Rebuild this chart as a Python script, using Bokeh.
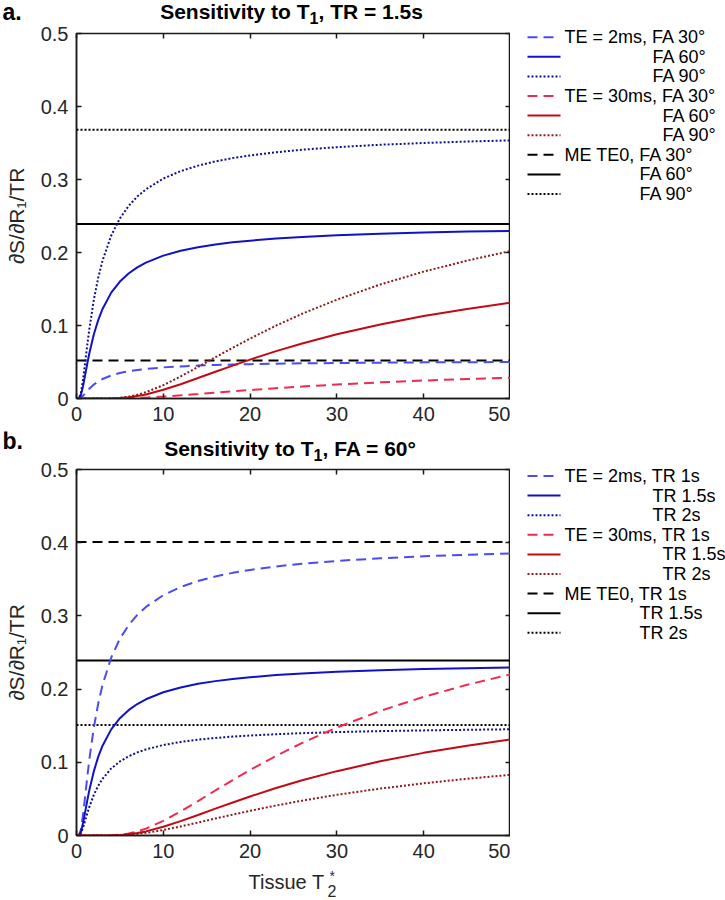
from bokeh.plotting import figure
from bokeh.models import (Range1d, LinearAxis, Label, FixedTicker, NumeralTickFormatter,
                          CustomJSTickFormatter)
from bokeh.layouts import column, row
from bokeh.embed import file_html
from bokeh.resources import INLINE

# ---------------- data ----------------
t2 = [0, 0.25, 0.5, 0.75, 1, 1.25, 1.5, 2, 2.5, 3, 4, 5, 6, 7, 8, 10, 12, 14,
      16, 18, 20, 23, 26, 30, 35, 40, 45, 50]

# panel a: TR = 1.5 s
a_te2_fa30 = [0, 0.0000, 0.0010, 0.0036, 0.0070, 0.0105, 0.0137, 0.0191, 0.0234, 0.0267,
              0.0315, 0.0349, 0.0373, 0.0391, 0.0405, 0.0426, 0.0440, 0.0451, 0.0459,
              0.0465, 0.0470, 0.0477, 0.0482, 0.0486, 0.0491, 0.0495, 0.0497, 0.0500]
a_te2_fa60 = [0, 0.0001, 0.0044, 0.0166, 0.0323, 0.0483, 0.0630, 0.0879, 0.1074, 0.1227,
              0.1450, 0.1602, 0.1712, 0.1796, 0.1861, 0.1957, 0.2023, 0.2072, 0.2109,
              0.2139, 0.2162, 0.2191, 0.2213, 0.2236, 0.2257, 0.2273, 0.2286, 0.2296]
a_te2_fa90 = [0, 0.0001, 0.0067, 0.0256, 0.0498, 0.0743, 0.0970, 0.1354, 0.1653, 0.1889,
              0.2232, 0.2467, 0.2637, 0.2766, 0.2866, 0.3013, 0.3115, 0.3190, 0.3248,
              0.3293, 0.3330, 0.3373, 0.3408, 0.3443, 0.3476, 0.3500, 0.3520, 0.3536]
a_te30_fa30 = [0, 0, 0, 0, 0, 0, 0, 0, 0, 0, 0.0000, 0.0001, 0.0004, 0.0007, 0.0012,
               0.0026, 0.0043, 0.0061, 0.0080, 0.0098, 0.0116, 0.0141, 0.0164, 0.0191,
               0.0221, 0.0246, 0.0267, 0.0285]
a_te30_fa60 = [0, 0, 0, 0, 0, 0, 0, 0, 0, 0, 0.0001, 0.0006, 0.0016, 0.0033, 0.0056,
               0.0119, 0.0196, 0.0280, 0.0367, 0.0451, 0.0533, 0.0649, 0.0754, 0.0879,
               0.1014, 0.1129, 0.1227, 0.1312]
a_te30_fa90 = [0, 0, 0, 0, 0, 0, 0, 0, 0, 0, 0.0002, 0.0009, 0.0025, 0.0051, 0.0087,
               0.0183, 0.0302, 0.0432, 0.0565, 0.0695, 0.0821, 0.0999, 0.1161, 0.1354,
               0.1562, 0.1738, 0.1889, 0.2020]
me_t2 = [0, 50]
a_me_fa30 = [0.052, 0.052]
a_me_fa60 = [0.239, 0.239]
a_me_fa90 = [0.368, 0.368]

# panel b: FA = 60 deg
b_te2_tr1 = [0, 0.0001, 0.0073, 0.0279, 0.0543, 0.0810, 0.1057, 0.1475, 0.1802, 0.2059,
             0.2432, 0.2688, 0.2873, 0.3014, 0.3123, 0.3283, 0.3395, 0.3476, 0.3539,
             0.3588, 0.3628, 0.3676, 0.3713, 0.3751, 0.3787, 0.3814, 0.3836, 0.3853]
b_te2_tr15 = a_te2_fa60
b_te2_tr2 = [0, 0.0001, 0.0028, 0.0105, 0.0204, 0.0305, 0.0398, 0.0556, 0.0678, 0.0775,
             0.0916, 0.1012, 0.1082, 0.1135, 0.1176, 0.1236, 0.1278, 0.1309, 0.1333,
             0.1351, 0.1366, 0.1384, 0.1398, 0.1413, 0.1426, 0.1436, 0.1444, 0.1451]
b_te30_tr1 = [0, 0, 0, 0, 0, 0, 0, 0, 0, 0, 0.0002, 0.0010, 0.0027, 0.0055, 0.0094,
              0.0200, 0.0329, 0.0470, 0.0615, 0.0757, 0.0895, 0.1088, 0.1265, 0.1475,
              0.1702, 0.1894, 0.2059, 0.2201]
b_te30_tr15 = a_te30_fa60
b_te30_tr2 = [0, 0, 0, 0, 0, 0, 0, 0, 0, 0, 0.0001, 0.0004, 0.0010, 0.0021, 0.0036,
              0.0075, 0.0124, 0.0177, 0.0232, 0.0285, 0.0337, 0.0410, 0.0476, 0.0556,
              0.0641, 0.0713, 0.0775, 0.0829]
b_me_tr1 = [0.401, 0.401]
b_me_tr15 = [0.239, 0.239]
b_me_tr2 = [0.151, 0.151]

x_ticks = [0, 10, 20, 30, 40, 50]
y_ticks = [0, 0.1, 0.2, 0.3, 0.4, 0.5]

legend_a = ["TE = 2ms, FA 30\u00b0", "FA 60\u00b0", "FA 90\u00b0",
            "TE = 30ms, FA 30\u00b0", "FA 60\u00b0", "FA 90\u00b0",
            "ME TE0, FA 30\u00b0", "FA 60\u00b0", "FA 90\u00b0"]
legend_b = ["TE = 2ms, TR 1s", "TR 1.5s", "TR 2s",
            "TE = 30ms, TR 1s", "TR 1.5s", "TR 2s",
            "ME TE0, TR 1s", "TR 1.5s", "TR 2s"]

# ---------------- styles ----------------
C_TE2 = ["#4b4bf2", "#1212c4", "#10108c"]
C_TE30 = ["#ee2a4e", "#c20a14", "#8c1a1a"]
C_ME = ["#000000", "#000000", "#000000"]
DASH = ["10 6", "solid", "2 2"]
LW = 2
FONT = "Liberation Sans"
TXT = "#262626"
W_PLOT = 510
W_LEG = 215
W_ALL = W_PLOT + W_LEG


def make_panel(height, top, bottom, series, me_series, colors_list):
    p = figure(width=W_PLOT, height=height, output_backend="svg", toolbar_location=None,
               x_range=Range1d(0, 50), y_range=Range1d(0, 0.5),
               min_border_left=76, min_border_right=0,
               min_border_top=top, min_border_bottom=bottom)
    p.xgrid.visible = False
    p.ygrid.visible = False
    p.outline_line_color = "#1a1a1a"
    p.outline_line_width = 1.5
    for ax in p.xaxis + p.yaxis:
        ax.major_tick_in = 5
        ax.major_tick_out = 0
        ax.minor_tick_line_color = None
        ax.axis_line_width = 1.5
        ax.axis_line_color = "#1a1a1a"
        ax.major_tick_line_color = "#1a1a1a"
        ax.major_tick_line_width = 1.5
        ax.major_label_text_font = FONT
        ax.major_label_text_font_size = "20px"
        ax.major_label_text_color = TXT
    p.xaxis.ticker = FixedTicker(ticks=x_ticks)
    p.yaxis.ticker = FixedTicker(ticks=y_ticks)
    p.xaxis.formatter = NumeralTickFormatter(format="0.[0]")
    p.yaxis.formatter = NumeralTickFormatter(format="0.[0]")
    p.xaxis.major_label_standoff = 8
    p.yaxis.major_label_standoff = 8
    p.yaxis.axis_label = "\u2202S/\u2202R\u2081/TR"
    p.yaxis.axis_label_text_font = FONT
    p.yaxis.axis_label_text_font_style = "normal"
    p.yaxis.axis_label_text_font_size = "21px"
    p.yaxis.axis_label_text_color = TXT
    p.yaxis.axis_label_standoff = 10
    # mirrored tick marks on top and right (no labels)
    for loc, ticks in (("above", x_ticks), ("right", y_ticks)):
        ax = LinearAxis(ticker=FixedTicker(ticks=ticks),
                        formatter=CustomJSTickFormatter(code="return ''"))
        ax.major_tick_in = 5
        ax.major_tick_out = 0
        ax.minor_tick_line_color = None
        ax.axis_line_color = None
        ax.major_tick_line_color = "#1a1a1a"
        ax.major_tick_line_width = 1.5
        ax.major_label_standoff = 0
        p.add_layout(ax, loc)
    for vals, dash in zip(me_series, DASH):
        p.line(me_t2, vals, line_color="black", line_width=LW, line_dash=dash)
    for vals, col, dash in zip(series, colors_list, DASH * 2):
        p.line(t2, vals, line_color=col, line_width=LW, line_dash=dash)
    return p


def blank(width, height):
    f = figure(width=width, height=height, output_backend="svg", toolbar_location=None,
               x_range=Range1d(0, width), y_range=Range1d(height, 0),
               x_axis_type=None, y_axis_type=None, min_border=0, frame_align=False)
    f.xgrid.visible = False
    f.ygrid.visible = False
    f.outline_line_color = None
    return f


def make_legend(height, y0, labels, xs):
    lf = blank(W_LEG, height)
    colors = C_TE2 + C_TE30 + C_ME
    for i, (lab, x) in enumerate(zip(labels, xs)):
        y = y0 + 19.6 * i
        dash = DASH[i % 3]
        x1 = 45 if dash == "10 6" else 50
        lf.line([17, x1], [y, y], line_color=colors[i], line_width=LW, line_dash=dash)
        lf.add_layout(Label(x=x, y=y, text=lab, text_font=FONT, text_font_size="18px",
                            text_color="black", text_baseline="middle", text_align="left"))
    return lf


def make_header(height, anchor, mid, sub_mid, rest, letter, letter_mid):
    h = blank(W_ALL, height)
    kw = dict(text_font=FONT, text_font_style="bold", text_color="black",
              text_baseline="middle")
    h.add_layout(Label(x=anchor, y=mid, text="Sensitivity to T", text_align="right",
                       text_font_size="21px", **kw))
    h.add_layout(Label(x=anchor, y=sub_mid, text="1", text_align="left",
                       text_font_size="16px", **kw))
    h.add_layout(Label(x=anchor + 9, y=mid, text=rest, text_align="left",
                       text_font_size="21px", **kw))
    h.add_layout(Label(x=2, y=letter_mid, text=letter, text_align="left",
                       text_font_size="23px", **kw))
    return h


# panel a  (page rows: header 0-25, plot 25-431)
head_a = make_header(25, 309, 10.5, 17, ", TR = 1.5s", "a.", 11)
pa = make_panel(406, 8, 33,
                [a_te2_fa30, a_te2_fa60, a_te2_fa90, a_te30_fa30, a_te30_fa60, a_te30_fa90],
                [a_me_fa30, a_me_fa60, a_me_fa90], C_TE2 + C_TE30)
leg_a = make_legend(406, 11.7, legend_a, [54, 142, 142, 54, 152, 152, 54, 129, 129])

# panel b  (page rows: header 431-462, plot 462-868, footer 868-899)
head_b = make_header(31, 313, 16.7, 23.5, ", FA = 60\u00b0", "b.", 9.5)
pb = make_panel(406, 7, 33,
                [b_te2_tr1, b_te2_tr15, b_te2_tr2, b_te30_tr1, b_te30_tr15, b_te30_tr2],
                [b_me_tr1, b_me_tr15, b_me_tr2], C_TE2 + C_TE30)
leg_b = make_legend(406, 13.5, legend_b, [54, 142, 142, 54, 152, 152, 54, 129, 129])
foot_b = blank(W_ALL, 31)
kwx = dict(text_font=FONT, text_color=TXT, text_baseline="middle")
foot_b.add_layout(Label(x=324, y=13, text="Tissue T", text_align="right",
                        text_font_size="20px", **kwx))
foot_b.add_layout(Label(x=327, y=22.5, text="2", text_align="left",
                        text_font_size="16px", **kwx))
foot_b.add_layout(Label(x=329, y=7.5, text="*", text_align="left",
                        text_font_size="14px", **kwx))

layout = column(
    row(head_a),
    row(pa, leg_a, spacing=0),
    row(head_b),
    row(pb, leg_b, spacing=0),
    row(foot_b),
    spacing=0)
open("out.html", "w").write(file_html(layout, INLINE))
